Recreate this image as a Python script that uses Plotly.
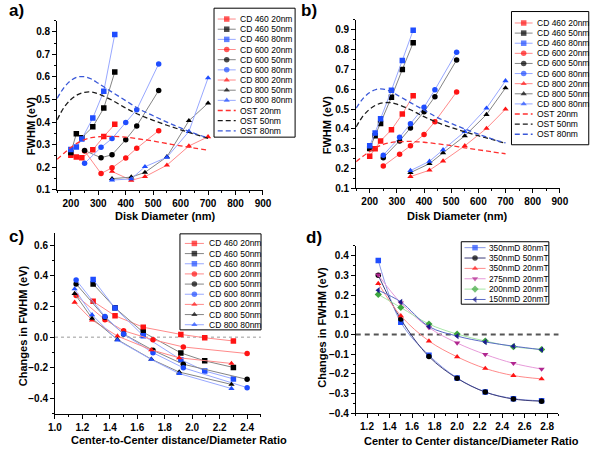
import plotly.graph_objects as go

W, H = 600, 452

# ---------------- data ----------------
# panel a / b : disk diameters (nm)
diam_460 = [200, 220, 240, 280, 320, 360]
diam_600 = [250, 310, 350, 400, 440, 520]
diam_800 = [350, 420, 470, 550, 630, 700]

# panel a FWHM (eV)
a_460_20 = [0.253, 0.245, 0.242, 0.277, 0.336, 0.390]
a_460_50 = [0.265, 0.348, 0.331, 0.379, 0.462, 0.622]
a_460_80 = [0.278, 0.290, 0.325, 0.418, 0.537, 0.789]
a_600_20 = [0.272, 0.172, 0.197, 0.241, 0.284, 0.362]
a_600_50 = [0.274, 0.242, 0.255, 0.322, 0.383, 0.540]
a_600_80 = [0.217, 0.288, 0.327, 0.398, 0.455, 0.658]
a_800_20 = [0.181, 0.142, 0.158, 0.209, 0.294, 0.335]
a_800_50 = [0.149, 0.156, 0.177, 0.246, 0.406, 0.484]
a_800_80 = [0.143, 0.148, 0.202, 0.244, 0.358, 0.596]

# panel b FWHM (eV)
b_460_20 = [0.263, 0.300, 0.340, 0.396, 0.475, 0.568]
b_460_50 = [0.302, 0.366, 0.428, 0.560, 0.700, 0.835]
b_460_80 = [0.315, 0.380, 0.452, 0.595, 0.745, 0.898]
b_600_20 = [0.213, 0.272, 0.315, 0.372, 0.437, 0.587]
b_600_50 = [0.255, 0.340, 0.405, 0.487, 0.563, 0.748]
b_600_80 = [0.268, 0.358, 0.427, 0.510, 0.598, 0.787]
b_800_20 = [0.160, 0.192, 0.238, 0.315, 0.403, 0.500]
b_800_50 = [0.180, 0.225, 0.280, 0.365, 0.473, 0.607]
b_800_80 = [0.190, 0.237, 0.295, 0.387, 0.505, 0.643]

# OST curves (same in a and b)
ost_x = [150, 175, 200, 225, 250, 275, 300, 350, 400, 450, 500, 550, 600, 650, 700]
ost_20 = [0.235, 0.262, 0.287, 0.308, 0.322, 0.331, 0.335, 0.337, 0.333, 0.325, 0.316, 0.305, 0.295, 0.285, 0.275]
ost_50 = [0.410, 0.465, 0.500, 0.522, 0.532, 0.533, 0.525, 0.497, 0.462, 0.432, 0.408, 0.386, 0.366, 0.347, 0.328]
ost_80 = [0.505, 0.553, 0.584, 0.600, 0.601, 0.591, 0.572, 0.533, 0.495, 0.457, 0.428, 0.400, 0.374, 0.350, 0.330]

# panel c : center-to-center distance / diameter ratio
ratio_460 = [1.278, 1.4375, 1.643, 1.917, 2.091, 2.3]
ratio_600 = [1.154, 1.364, 1.5, 1.714, 1.935, 2.4]
ratio_800 = [1.143, 1.27, 1.455, 1.702, 1.905, 2.286]
c_460_20 = [0.234, 0.140, 0.065, 0.018, -0.004, -0.025]
c_460_50 = [0.347, 0.192, 0.032, -0.103, -0.155, -0.198]
c_460_80 = [0.377, 0.190, 0.010, -0.147, -0.221, -0.273]
c_600_20 = [0.273, 0.114, 0.042, -0.017, -0.064, -0.107]
c_600_50 = [0.348, 0.130, 0.020, -0.086, -0.177, -0.276]
c_600_80 = [0.374, 0.135, 0.020, -0.102, -0.200, -0.330]
c_800_20 = [0.228, 0.112, 0.007, -0.083, -0.135, -0.172]
c_800_50 = [0.285, 0.123, -0.016, -0.144, -0.228, -0.309]
c_800_80 = [0.315, 0.146, -0.020, -0.146, -0.238, -0.336]

# panel d
ratio_d = [1.3, 1.5, 1.75, 2.0, 2.25, 2.5, 2.75]
d_350_80 = [0.375, 0.062, -0.105, -0.220, -0.291, -0.325, -0.336]
d_350_50 = [0.300, 0.078, -0.112, -0.222, -0.292, -0.327, -0.338]
d_350_20 = [0.258, 0.095, -0.033, -0.113, -0.172, -0.208, -0.225]
d_275_20 = [0.302, 0.160, 0.035, -0.043, -0.101, -0.146, -0.175]
d_200_20 = [0.203, 0.137, 0.053, 0.002, -0.033, -0.062, -0.076]
d_150_20 = [0.224, 0.165, 0.040, -0.008, -0.038, -0.059, -0.077]

cd_names = ["CD 460 20nm", "CD 460 50nm", "CD 460 80nm",
            "CD 600 20nm", "CD 600 50nm", "CD 600 80nm",
            "CD 800 20nm", "CD 800 50nm", "CD 800 80nm"]
ost_names = ["OST 20nm", "OST 50nm", "OST 80nm"]
d_names = ["350nmD 80nmT", "350nmD 50nmT", "350nmD 20nmT",
           "275nmD 20nmT", "200nmD 20nmT", "150nmD 20nmT"]

# ---------------- styles ----------------
RED_M, RED_L = "#ff1414", "#ff8a8a"
BLK_M, BLK_L = "#000000", "#858585"
BLU_M, BLU_L = "#1f4dff", "#98a8ff"
cd_mcol = [RED_M, BLK_M, BLU_M] * 3
cd_lcol = [RED_L, BLK_L, BLU_L] * 3
cd_sym = ["square"] * 3 + ["circle"] * 3 + ["triangle-up"] * 3
ost_col = ["#ff3030", "#1a1a1a", "#3a58d8"]
OST_DASH = "5px,3px"

d_mcol = ["#1f4dff", "#000000", "#ff1414", "#b0268f", "#3fa63f", "#1a1a8c"]
d_lcol = ["#8a9ae6", "#3c3c78", "#ff8a8a", "#e79ad9", "#a6e6a6", "#5a6ac6"]
d_sym = ["square", "circle", "triangle-up", "triangle-down", "diamond", "triangle-left"]

MS = 5.5
fig = go.Figure()


def add_series(x, y, xa, ya, mc, lc, sym, shape="linear"):
    fig.add_trace(go.Scatter(
        x=x, y=y, xaxis=xa, yaxis=ya, mode="lines+markers",
        line=dict(color=lc, width=1, shape=shape),
        marker=dict(symbol=sym, size=MS, color=mc, line=dict(width=0)),
        showlegend=False, hoverinfo="skip"))


a_sets = [(diam_460, a_460_20), (diam_460, a_460_50), (diam_460, a_460_80),
          (diam_600, a_600_20), (diam_600, a_600_50), (diam_600, a_600_80),
          (diam_800, a_800_20), (diam_800, a_800_50), (diam_800, a_800_80)]
b_sets = [(diam_460, b_460_20), (diam_460, b_460_50), (diam_460, b_460_80),
          (diam_600, b_600_20), (diam_600, b_600_50), (diam_600, b_600_80),
          (diam_800, b_800_20), (diam_800, b_800_50), (diam_800, b_800_80)]
c_sets = [(ratio_460, c_460_20), (ratio_460, c_460_50), (ratio_460, c_460_80),
          (ratio_600, c_600_20), (ratio_600, c_600_50), (ratio_600, c_600_80),
          (ratio_800, c_800_20), (ratio_800, c_800_50), (ratio_800, c_800_80)]
ost_sets = [ost_20, ost_50, ost_80]
d_sets = [d_350_80, d_350_50, d_350_20, d_275_20, d_200_20, d_150_20]

for xa, ya, sets in (("x", "y", a_sets), ("x2", "y2", b_sets)):
    for i, (xx, yy) in enumerate(sets):
        add_series(xx, yy, xa, ya, cd_mcol[i], cd_lcol[i], cd_sym[i])
    for i, yy in enumerate(ost_sets):
        fig.add_trace(go.Scatter(
            x=ost_x, y=yy, xaxis=xa, yaxis=ya, mode="lines",
            line=dict(color=ost_col[i], width=1.3, dash=OST_DASH, shape="spline"),
            showlegend=False, hoverinfo="skip"))

for i, (xx, yy) in enumerate(c_sets):
    add_series(xx, yy, "x3", "y3", cd_mcol[i], cd_lcol[i], cd_sym[i])

for i, yy in enumerate(d_sets):
    add_series(ratio_d, yy, "x4", "y4", d_mcol[i], d_lcol[i], d_sym[i], shape="spline")

# ---------------- legends (drawn on a pixel overlay axis) ----------------
shapes = []
annotations = []


def px(xp):
    return xp / W


def py(yp):
    return 1 - yp / H


def legend(box, y0, pitch, lx0, lx1, tx, entries, fs=8.5):
    shapes.append(dict(type="rect", xref="paper", yref="paper",
                       x0=px(box[0]), x1=px(box[2]), y0=py(box[1]), y1=py(box[3]),
                       line=dict(color="black", width=1), fillcolor="rgba(0,0,0,0)",
                       layer="above"))
    for k, (name, mc, lc, sym, dash) in enumerate(entries):
        yr = y0 + k * pitch
        xm = (lx0 + lx1) / 2
        if sym is None:
            fig.add_trace(go.Scatter(
                x=[lx0, lx1], y=[yr, yr], xaxis="x5", yaxis="y5", mode="lines",
                line=dict(color=lc, width=1.3, dash=dash),
                showlegend=False, hoverinfo="skip"))
        else:
            fig.add_trace(go.Scatter(
                x=[lx0, xm, lx1], y=[yr, yr, yr], xaxis="x5", yaxis="y5",
                mode="lines+markers", line=dict(color=lc, width=1),
                marker=dict(symbol=sym, size=[0, MS, 0], color=mc, line=dict(width=0)),
                showlegend=False, hoverinfo="skip"))
        annotations.append(dict(xref="paper", yref="paper", x=px(tx), y=py(yr),
                                xanchor="left", yanchor="middle", showarrow=False,
                                text=name, font=dict(family="Liberation Sans", size=fs, color="black")))


cd_entries = [(cd_names[i], cd_mcol[i], cd_lcol[i], cd_sym[i], None) for i in range(9)]
ost_entries = [(ost_names[i], None, ost_col[i], None, OST_DASH) for i in range(3)]
d_entries = [(d_names[i], d_mcol[i], d_lcol[i], d_sym[i], None) for i in range(6)]

legend((212.7, 8.3, 296, 139), 19.3, 10.3, 216.5, 235, 237.5, cd_entries + ost_entries)
legend((518.3, 11.7, 597.7, 146.7), 23.3, 10.25, 521.7, 540, 542.5, cd_entries + ost_entries)
legend((177.7, 237, 261, 334.3), 246.7, 10.3, 182.7, 202.3, 205, cd_entries)
legend((466.7, 245, 556.7, 308.3), 251, 10.5, 470, 491.7, 493.3, d_entries, fs=8.3)

# zero lines
shapes.append(dict(type="line", xref="x3 domain", yref="y3", x0=0, x1=1, y0=0, y1=0,
                   line=dict(color="#9a9a9a", width=1, dash="dot"), layer="below"))
shapes.append(dict(type="line", xref="x4 domain", yref="y4", x0=0, x1=1, y0=0, y1=0,
                   line=dict(color="#555555", width=2, dash="5px,4px"), layer="below"))

# panel labels and axis titles
TF = dict(family="Liberation Sans", size=11, color="black", weight="bold")
for txt, xp, yp in (("a)", 0, 10.5), ("b)", 300, 10.5), ("c)", 0, 239.5), ("d)", 305, 240.5)):
    annotations.append(dict(xref="paper", yref="paper", x=px(xp), y=py(yp), text=txt,
                            xanchor="left", yanchor="middle", showarrow=False,
                            font=dict(family="Liberation Sans", size=17, color="black", weight="bold")))
for txt, xp, yp, ang in (("Disk Diameter (nm)", 162.5, 219, 0),
                         ("FWHM (eV)", 24, 127.5, -90),
                         ("Disk Diameter (nm)", 463.3, 219, 0),
                         ("FWHM (eV)", 329, 126.7, -90),
                         ("Center-to-Center distance/Diameter Ratio", 176.3, 446, 0),
                         ("Changes in FWHM (eV)", 16, 330, -90),
                         ("Center to Center distance/Diameter Ratio", 477.5, 446.5, 0),
                         ("Changes in FWHM (eV)", 324, 331.8, -90)):
    annotations.append(dict(xref="paper", yref="paper", x=px(xp), y=py(yp), text=txt,
                            textangle=ang, xanchor="center", yanchor="middle",
                            showarrow=False, font=TF))

# ---------------- axes ----------------
TK = dict(family="Liberation Sans", size=10, color="black", weight="bold")


def axis(domain, rng, dtick, minor, anchor, fmt=None):
    d = dict(domain=domain, range=rng, dtick=dtick, tick0=0, anchor=anchor,
             showline=True, linecolor="black", linewidth=1, ticks="outside",
             ticklen=4, tickwidth=1, tickcolor="black", showgrid=False, zeroline=False,
             tickfont=TK, fixedrange=True,
             minor=dict(ticks="outside", ticklen=2, tickwidth=1, tickcolor="black",
                        dtick=minor, showgrid=False))
    if fmt:
        d["tickformat"] = fmt
    return d


layout = dict(
    width=W, height=H, margin=dict(l=0, r=0, t=0, b=0),
    paper_bgcolor="white", plot_bgcolor="rgba(0,0,0,0)", showlegend=False,
    hovermode=False,
    xaxis=axis([px(51.5), px(263)], [150, 900], 100, 50, "y"),
    yaxis=axis([py(192.3), py(20.9)], [0.1, 0.85], 0.1, 0.05, "x", ".1f"),
    xaxis2=axis([px(358.7), px(568)], [150, 900], 100, 50, "y2"),
    yaxis2=axis([py(191), py(20.2)], [0.1, 0.95], 0.1, 0.05, "x2", ".1f"),
    xaxis3=axis([px(49.3), px(260.8)], [1.0, 2.5], 0.2, 0.1, "y3", ".1f"),
    yaxis3=axis([py(419.2), py(236.3)], [-0.5, 0.68], 0.2, 0.1, "x3", ".1f"),
    xaxis4=axis([px(358.3), px(566.6)], [1.1, 2.9], 0.2, 0.1, "y4", ".1f"),
    yaxis4=axis([py(419), py(249)], [-0.4, 0.45], 0.1, 0.05, "x4", ".1f"),
    xaxis5=dict(domain=[0, 1], range=[0, W], visible=False, fixedrange=True, anchor="y5"),
    yaxis5=dict(domain=[0, 1], range=[H, 0], visible=False, fixedrange=True, anchor="x5"),
    shapes=shapes, annotations=annotations,
)
fig.update_layout(**layout)
fig.write_html(
    "out.html",
    config={"displayModeBar": False, "staticPlot": True},
    post_script=("document.body.style.margin='0px';document.body.style.padding='0px';"
                 "document.documentElement.style.overflow='hidden';"
                 "document.body.style.overflow='hidden';"))
